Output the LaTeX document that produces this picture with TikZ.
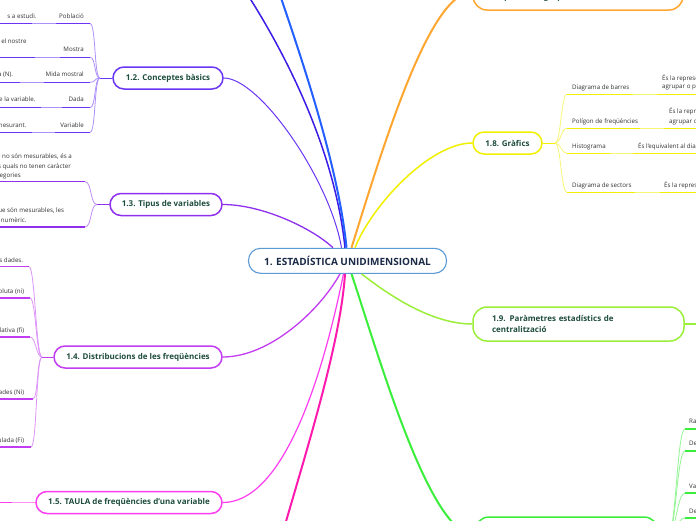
\documentclass[tikz,border=0pt]{standalone}
\usepackage{fontspec}
\setmainfont{Open Sans}
\definecolor{cdb}{HTML}{3A1DE6}
\definecolor{cb}{HTML}{2460FF}
\definecolor{c12}{HTML}{6A35F5}
\definecolor{c13}{HTML}{8E30EE}
\definecolor{c14}{HTML}{C23CF2}
\definecolor{c15}{HTML}{FF3DF0}
\definecolor{cpk}{HTML}{FF1AAE}
\definecolor{cor}{HTML}{FFA630}
\definecolor{cye}{HTML}{F0F000}
\definecolor{cyg}{HTML}{9BEE3A}
\definecolor{cgr}{HTML}{3BEE3B}
\definecolor{ccen}{HTML}{5B9BD5}
\definecolor{titc}{HTML}{1E4D3C}
\definecolor{txtc}{HTML}{333333}
\definecolor{centc}{HTML}{1B2A47}
\tikzset{
  topic/.style={draw=#1, line width=1.5pt, rounded corners=11pt, fill=white,
    font=\bfseries\fontsize{8}{11}\selectfont, text=titc, inner sep=0pt, minimum height=22pt},
  ttl/.style={inner sep=0pt, font=\bfseries\fontsize{8}{11}\selectfont, text=titc},
  lab/.style={inner sep=0pt, font=\fontsize{6.2}{7.5}\selectfont, text=txtc},
  ul/.style={line width=1.5pt, draw=#1},
  cn/.style={line width=0.8pt, draw=#1!55},
  br/.style={line width=#1}
}
\begin{document}
\begin{tikzpicture}[x=1pt,y=-1pt]
\useasboundingbox (0,0) rectangle (696,520);
\fill[white] (0,0) rectangle (696,520);
\clip (0,0) rectangle (696,520);

% central node
\node[draw=ccen, line width=1.1pt, rounded corners=12pt, fill=white, minimum width=198pt,
  minimum height=25pt, inner sep=0pt, font=\bfseries\fontsize{10}{12}\selectfont, text=centc]
  (c) at (347.5,260.8) {1. ESTADÍSTICA UNIDIMENSIONAL};

% topic nodes
\node[topic=c12, minimum width=110pt] (n12) at (168,78) {1.2. Conceptes bàsics};
\node[topic=c13, minimum width=112pt] (n13) at (166,204.5) {1.3. Tipus de variables};
\node[topic=c14, minimum width=168pt] (n14) at (138,357) {1.4. Distribucions de les freqüències};
\node[topic=c15, minimum width=186pt] (n15) at (129,502.5) {1.5. TAULA de freqüències d’una variable};
\node[topic=cor, minimum width=210pt, minimum height=36pt, rounded corners=14pt] (n17) at (578,-8) {};
\node[ttl, anchor=base west] (n17t) at (490,-0.5) {freqüències agrupades};
\node[topic=cye, minimum width=69pt] (n18) at (507.5,143) {1.8. Gràfics};
\node[topic=cyg, minimum width=211pt, minimum height=34pt, rounded corners=14pt,
  text width=173pt, align=left] (n19) at (578.5,324) {1.9. Paràmetres estadístics de\\centralització};
\node[topic=cgr, minimum width=183pt, minimum height=36pt, rounded corners=14pt] (n110) at (566.5,535) {};
\coordinate (n11) at (238,-20);
\coordinate (n111) at (275,-20);
\coordinate (n16) at (275,560);

% main branches
\draw[cdb, br=1.5pt] ([xshift=-2.5pt]c.north) .. controls (335,150) and (285,50) .. (n11);
\draw[cb, br=2pt] ([xshift=-1pt]c.north) .. controls (338,160) and (295,40) .. (n111);
\draw[c12, br=1pt] ([xshift=-6pt]c.north) .. controls (330,180) and (260,78) .. (n12.east);
\draw[c13, br=1.3pt] ([xshift=-14.5pt]c.north) .. controls (312,228) and (262,204.5) .. (n13.east);
\draw[cor, br=2pt] ([xshift=4pt]c.north) .. controls (385,140) and (430,-8) .. (n17.west);
\draw[cye, br=1.5pt] ([xshift=7.5pt]c.north) .. controls (372,205) and (430,143) .. (n18.west);
\draw[c14, br=1.3pt] ([xshift=-7.5pt]c.south) .. controls (320,310) and (270,357) .. (n14.east);
\draw[c15, br=1.2pt] ([xshift=-4pt]c.south) .. controls (320,390) and (280,502.5) .. (n15.east);
\draw[cpk, br=2pt] ([xshift=-2.5pt]c.south) .. controls (340,350) and (300,470) .. (n16);
\draw[cgr, br=2pt] ([xshift=4pt]c.south) .. controls (380,360) and (430,535) .. (n110.west);
\draw[cyg, br=1.5pt] ([xshift=14pt]c.south) .. controls (395,300) and (435,324) .. (n19.west);

% ---- 1.2 group
\coordinate (h12) at (100,78);
\draw[c12, br=1pt] (h12) -- (n12.west);
\node[lab, anchor=base east] (p1) at (84,18.2) {Població};
\node[lab, anchor=base east] (p1c) at (36.7,18.2) {s a estudi.};
\draw[ul=c12] (56,23.5) -- (90,23.5) coordinate (p1e);
\draw[ul=c12] (0,23.5) -- (32,23.5);
\draw[cn=c12] (32,23.5) -- (56,23.5);
\draw[cn=c12] (p1e) .. controls +(6,0) and +(-6,0) .. (h12);

\node[lab, anchor=base east] (p2) at (84,51.2) {Mostra};
\node[lab, anchor=base east] (p2c) at (26.7,43.9) {r el nostre};
\draw[ul=c12] (60,57.3) -- (90,57.3) coordinate (p2e);
\draw[ul=c12] (0,57.3) -- (35,57.3);
\draw[cn=c12] (35,57.3) -- (60,57.3);
\draw[cn=c12] (p2e) .. controls +(6,0) and +(-6,0) .. (h12);

\node[lab, anchor=base east] (p3) at (84,76.2) {Mida mostral};
\node[lab, anchor=base east] (p3c) at (13.3,76.2) {a (N).};
\draw[ul=c12] (44,82.3) -- (90,82.3) coordinate (p3e);
\draw[ul=c12] (0,82.3) -- (20,82.3);
\draw[cn=c12] (20,82.3) -- (44,82.3);
\draw[cn=c12] (p3e) .. controls +(6,0) and +(-6,0) .. (h12);

\node[lab, anchor=base east] (p4) at (84,101.7) {Dada};
\node[lab, anchor=base east] (p4c) at (35.7,101.7) {e la variable.};
\draw[ul=c12] (62,107.7) -- (90,107.7) coordinate (p4e);
\draw[ul=c12] (0,107.7) -- (41,107.7);
\draw[cn=c12] (41,107.7) -- (62,107.7);
\draw[cn=c12] (p4e) .. controls +(6,0) and +(-6,0) .. (h12);

\node[lab, anchor=base east] (p5) at (84,127.2) {Variable};
\node[lab, anchor=base east] (p5c) at (26.7,127.2) {mesurant.};
\draw[ul=c12] (55,132.3) -- (90,132.3) coordinate (p5e);
\draw[ul=c12] (0,132.3) -- (32,132.3);
\draw[cn=c12] (32,132.3) -- (55,132.3);
\draw[cn=c12] (p5e) .. controls +(6,0) and +(-6,0) .. (h12);

% ---- 1.3 group
\coordinate (h13) at (97,204.5);
\draw[c13, br=1pt] (h13) -- (n13.west);
\node[lab, anchor=base east] (q1a) at (72,158.9) {e no són mesurables, és a};
\node[lab, anchor=base east] (q1b) at (71,168.2) {s quals no tenen caràcter};
\node[lab, anchor=base east] (q1c) at (21,177.2) {egories};
\draw[ul=c13] (0,181.7) -- (85,181.7) coordinate (q1e);
\draw[cn=c13] (q1e) .. controls +(7,0) and +(-7,0) .. (h13);
\node[lab, anchor=base east] (q2a) at (64.3,212.9) {que són mesurables, les};
\node[lab, anchor=base east] (q2b) at (26.7,222.2) {r numèric.};
\draw[ul=c13] (0,227) -- (85,227) coordinate (q2e);
\draw[cn=c13] (q2e) .. controls +(7,0) and +(-7,0) .. (h13);

% ---- 1.4 group
\coordinate (h14) at (42,357);
\draw[c14, br=1pt] (h14) -- (n14.west);
\node[lab, anchor=base east] (r1) at (23.3,262.2) {es dades.};
\draw[ul=c14] (0,266.7) -- (29,266.7) coordinate (r1e);
\draw[cn=c14] (r1e) .. controls +(6,0) and +(-6,0) .. (h14);
\node[lab, anchor=base east] (r2) at (24.3,293.2) {oluta (ni)};
\draw[ul=c14] (0,298) -- (30,298) coordinate (r2e);
\draw[cn=c14] (r2e) .. controls +(6,0) and +(-6,0) .. (h14);
\node[lab, anchor=base east] (r3) at (24.3,332.2) {lativa (fi)};
\draw[ul=c14] (0,337) -- (30,337) coordinate (r3e);
\draw[cn=c14] (r3e) .. controls +(6,0) and +(-6,0) .. (h14);
\node[lab, anchor=base east] (r4) at (24.3,394.2) {ades (Ni)};
\draw[ul=c14] (0,399) -- (33,399) coordinate (r4e);
\draw[cn=c14] (r4e) .. controls +(5,0) and +(-5,0) .. (h14);
\node[lab, anchor=base east] (r5) at (24.3,442.2) {ulada (Fi)};
\draw[ul=c14] (0,447) -- (31,447) coordinate (r5e);
\draw[cn=c14] (r5e) .. controls +(6,0) and +(-6,0) .. (h14);

% ---- 1.5 group
\draw[ul=c15] (0,502.5) -- (12,502.5) coordinate (u15);
\draw[cn=c15] (u15) -- (n15.west);

% ---- 1.8 group
\coordinate (h18) at (555,143);
\draw[cye, br=1pt] (n18.east) -- (h18);
\node[lab, anchor=base west] (g1) at (572,89.1) {Diagrama de barres};
\node[lab, anchor=base west] (g1a) at (662,80.5) {És la representació};
\node[lab, anchor=base west] (g1b) at (662,88.9) {agrupar o per};
\draw[ul=cye] (567,94.3) coordinate (g1s) -- (633,94.3);
\draw[cn=cye] (633,94.3) -- (657,94.3);
\draw[ul=cye] (657,94.3) -- (700,94.3);
\draw[cn=cye] (g1s) .. controls +(-6,0) and +(6,0) .. (h18);

\node[lab, anchor=base west] (g2) at (572,123.2) {Polígon de freqüències};
\node[lab, anchor=base west] (g2a) at (669,113.9) {És la representació};
\node[lab, anchor=base west] (g2b) at (669,123.2) {agrupar o};
\draw[ul=cye] (567,128.3) coordinate (g2s) -- (640,128.3);
\draw[cn=cye] (640,128.3) -- (664,128.3);
\draw[ul=cye] (664,128.3) -- (700,128.3);
\draw[cn=cye] (g2s) .. controls +(-6,0) and +(6,0) .. (h18);

\node[lab, anchor=base west] (g3) at (572,148.2) {Histograma};
\node[lab, anchor=base west] (g3a) at (638,148.2) {És l’equivalent al diagrama};
\draw[ul=cye] (567,153.3) coordinate (g3s) -- (610,153.3);
\draw[cn=cye] (610,153.3) -- (633,153.3);
\draw[ul=cye] (633,153.3) -- (700,153.3);
\draw[cn=cye] (g3s) .. controls +(-6,0) and +(6,0) .. (h18);

\node[lab, anchor=base west] (g4) at (572,187.2) {Diagrama de sectors};
\node[lab, anchor=base west] (g4a) at (664,187.2) {És la representació};
\draw[ul=cye] (567,192.3) coordinate (g4s) -- (635,192.3);
\draw[cn=cye] (635,192.3) -- (660,192.3);
\draw[ul=cye] (660,192.3) -- (700,192.3);
\draw[cn=cye] (g4s) .. controls +(-6,0) and +(6,0) .. (h18);

% ---- 1.9 right stub
\coordinate (h19) at (700,324);
\draw[cyg, br=1.2pt] (n19.east) -- (h19);

% ---- green group
\coordinate (h110) at (668,535);
\draw[cgr, br=1pt] (n110.east) -- (h110);
\node[lab, anchor=base west] (k1) at (689,423.2) {Rang};
\draw[ul=cgr] (685,429) coordinate (k1s) -- (700,429);
\draw[cn=cgr] (k1s) .. controls +(-8,0) and +(8,0) .. (h110);
\node[lab, anchor=base west] (k2) at (689,445.2) {Desviació mitjana};
\draw[ul=cgr] (685,451) coordinate (k2s) -- (700,451);
\draw[cn=cgr] (k2s) .. controls +(-8,0) and +(8,0) .. (h110);
\node[lab, anchor=base west] (k3) at (689,488.2) {Variància};
\draw[ul=cgr] (685,493) coordinate (k3s) -- (700,493);
\draw[cn=cgr] (k3s) .. controls +(-8,0) and +(8,0) .. (h110);
\node[lab, anchor=base west] (k4) at (689,513.2) {Desviació típica};
\draw[ul=cgr] (685,518) coordinate (k4s) -- (700,518);
\draw[cn=cgr] (k4s) .. controls +(-8,0) and +(8,0) .. (h110);
\end{tikzpicture}
\end{document}
